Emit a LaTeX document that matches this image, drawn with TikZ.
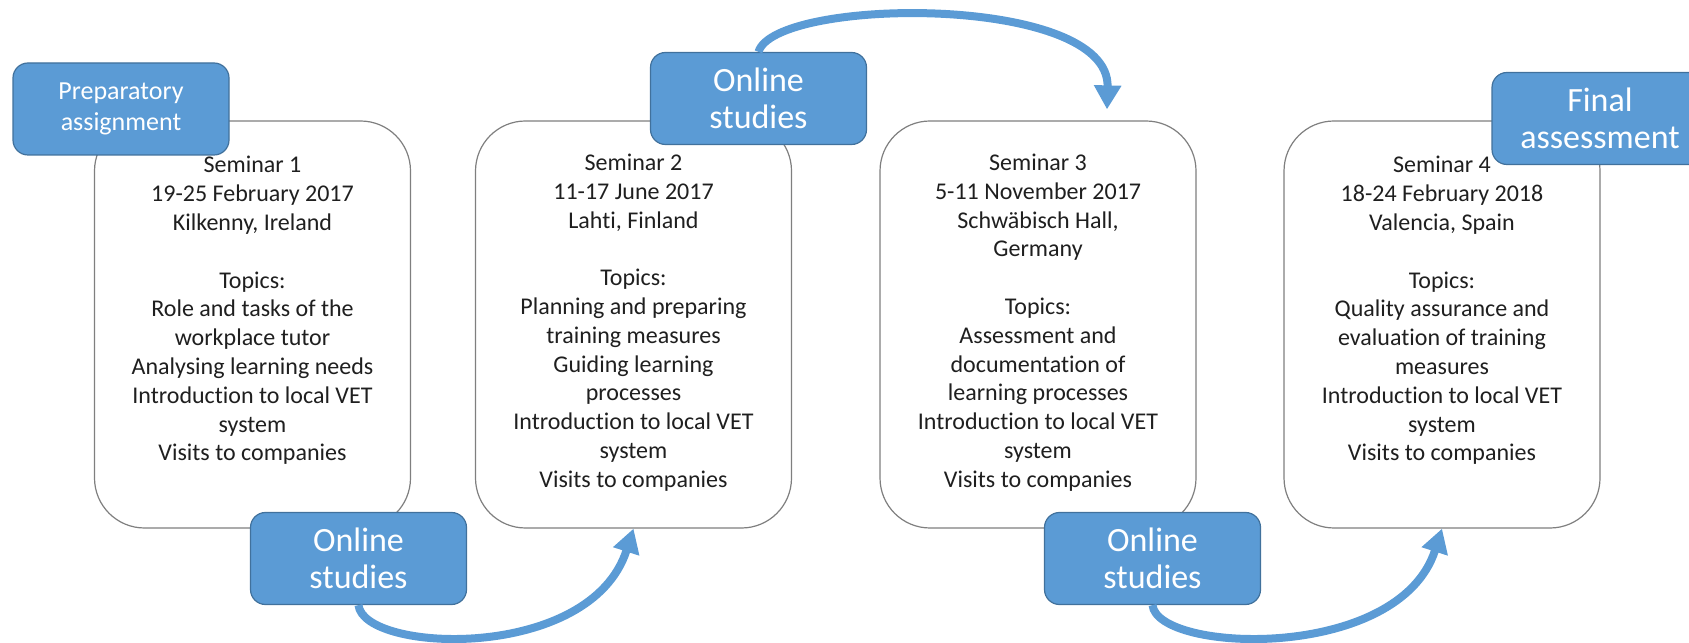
\documentclass[tikz,border=0pt]{standalone}
\usepackage{fontspec}
\setmainfont{Carlito}[Ligatures=NoCommon]
\usepackage{tikz}
\usetikzlibrary{arrows.meta,positioning,calc}
\definecolor{boxblue}{HTML}{5B9BD5}
\definecolor{boxbd}{HTML}{41719C}
\definecolor{cardbd}{HTML}{7F7F7F}
\definecolor{txt}{HTML}{1F1F1F}
\tikzset{
  seminar/.style={draw=cardbd,fill=white,rounded corners=25pt,line width=0.6pt,
                  minimum width=158pt,minimum height=203.5pt,inner sep=0pt},
  semtext/.style={align=center,text=txt,font=\fontsize{12}{14.4}\selectfont},
  phase/.style={draw=boxbd,fill=boxblue,rounded corners=7.5pt,line width=0.6pt,
                minimum width=108pt,minimum height=46pt,align=center,text=white,
                font=\fontsize{17}{18.8}\selectfont},
  flow/.style={-{Triangle[length=12pt,width=13pt]},line width=4pt,boxblue},
}

\begin{document}
\begin{tikzpicture}[x=0.5pt,y=0.5pt]
  \clip (0,0) rectangle (1689,642);

  % ---- Seminar cards ----
  \node[seminar] (sem1) at (252.5,317.5) {};
  \node[seminar] (sem2) at (633.5,317.5) {};
  \node[seminar] (sem3) at (1038,317.5) {};
  \node[seminar] (sem4) at (1442,317.5) {};

  \node[semtext] (sem1txt) at ([yshift=7pt]sem1.center) {%
    Seminar 1\\19-25 February 2017\\Kilkenny, Ireland\\[14.4pt]
    Topics:\\Role and tasks of the\\workplace tutor\\Analysing learning needs\\
    Introduction to local VET\\system\\Visits to companies};
  \node[semtext] (sem2txt) at ([yshift=1pt]sem2.center) {%
    Seminar 2\\11-17 June 2017\\Lahti, Finland\\[14.4pt]
    Topics:\\Planning and preparing\\training measures\\Guiding learning\\
    processes\\Introduction to local VET\\system\\Visits to companies};
  \node[semtext] (sem3txt) at ([yshift=1pt]sem3.center) {%
    Seminar 3\\5-11 November 2017\\Schwäbisch Hall,\\Germany\\[14.4pt]
    Topics:\\Assessment and\\documentation of\\learning processes\\
    Introduction to local VET\\system\\Visits to companies};
  \node[semtext] (sem4txt) at ([yshift=7pt]sem4.center) {%
    Seminar 4\\18-24 February 2018\\Valencia, Spain\\[14.4pt]
    Topics:\\Quality assurance and\\evaluation of training\\measures\\
    Introduction to local VET\\system\\Visits to companies};

  % ---- Blue phase boxes ----
  \node[phase,font=\fontsize{13}{15.5}\selectfont] (prep) at (121,533)
    {Preparatory\\assignment};
  \node[phase] (online1) at (358.5,83.5) {Online\\studies};
  \node[phase] (online2) at (758.5,543.5) {Online\\studies};
  \node[phase] (online3) at (1152.5,83.5) {Online\\studies};
  \node[phase] (final) at (1600,523.5) {Final\\assessment};

  % ---- Curved arrows ----
  \coordinate (sem3in) at ([xshift=34.5pt,yshift=5.5pt]sem3.north);
  \draw[flow] (online1.south) .. controls +(5,-48) and +(-43,-134) .. (sem2.south);
  \draw[flow] (online2.north) .. controls +(16,55) and +(3,116) .. (sem3in);
  \draw[flow] (online3.south) .. controls +(5,-48) and +(-43,-134) .. (sem4.south);
\end{tikzpicture}
\end{document}
